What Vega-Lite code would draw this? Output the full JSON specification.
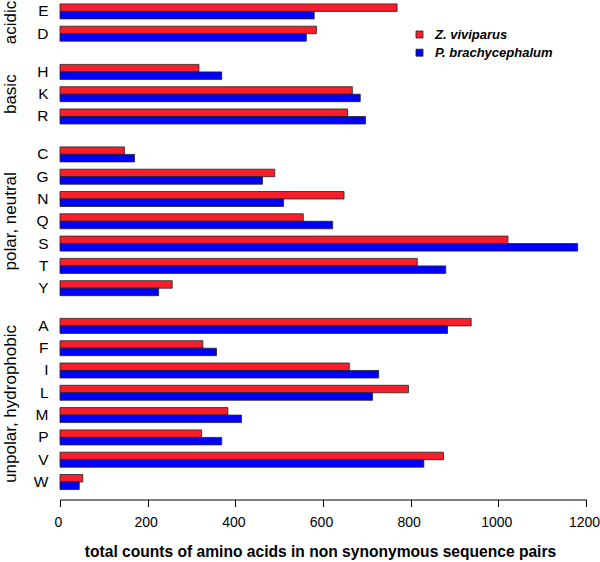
{
  "$schema": "https://vega.github.io/schema/vega-lite/v6.json",
  "padding": {"left": 1, "top": 0, "right": 0, "bottom": 0},
  "data": {"values": [
    {"aa": "E", "group": "acidic", "species": "Z. viviparus", "count": 769},
    {"aa": "E", "group": "acidic", "species": "P. brachycephalum", "count": 580},
    {"aa": "D", "group": "acidic", "species": "Z. viviparus", "count": 585},
    {"aa": "D", "group": "acidic", "species": "P. brachycephalum", "count": 562},
    {"aa": "H", "group": "basic", "species": "Z. viviparus", "count": 317},
    {"aa": "H", "group": "basic", "species": "P. brachycephalum", "count": 369},
    {"aa": "K", "group": "basic", "species": "Z. viviparus", "count": 667},
    {"aa": "K", "group": "basic", "species": "P. brachycephalum", "count": 685},
    {"aa": "R", "group": "basic", "species": "Z. viviparus", "count": 656},
    {"aa": "R", "group": "basic", "species": "P. brachycephalum", "count": 697},
    {"aa": "C", "group": "polar, neutral", "species": "Z. viviparus", "count": 147},
    {"aa": "C", "group": "polar, neutral", "species": "P. brachycephalum", "count": 170},
    {"aa": "G", "group": "polar, neutral", "species": "Z. viviparus", "count": 490},
    {"aa": "G", "group": "polar, neutral", "species": "P. brachycephalum", "count": 462},
    {"aa": "N", "group": "polar, neutral", "species": "Z. viviparus", "count": 648},
    {"aa": "N", "group": "polar, neutral", "species": "P. brachycephalum", "count": 510},
    {"aa": "Q", "group": "polar, neutral", "species": "Z. viviparus", "count": 555},
    {"aa": "Q", "group": "polar, neutral", "species": "P. brachycephalum", "count": 622},
    {"aa": "S", "group": "polar, neutral", "species": "Z. viviparus", "count": 1022},
    {"aa": "S", "group": "polar, neutral", "species": "P. brachycephalum", "count": 1181},
    {"aa": "T", "group": "polar, neutral", "species": "Z. viviparus", "count": 815},
    {"aa": "T", "group": "polar, neutral", "species": "P. brachycephalum", "count": 880},
    {"aa": "Y", "group": "polar, neutral", "species": "Z. viviparus", "count": 256},
    {"aa": "Y", "group": "polar, neutral", "species": "P. brachycephalum", "count": 225},
    {"aa": "A", "group": "unpolar, hydrophobic", "species": "Z. viviparus", "count": 938},
    {"aa": "A", "group": "unpolar, hydrophobic", "species": "P. brachycephalum", "count": 884},
    {"aa": "F", "group": "unpolar, hydrophobic", "species": "Z. viviparus", "count": 326},
    {"aa": "F", "group": "unpolar, hydrophobic", "species": "P. brachycephalum", "count": 357},
    {"aa": "I", "group": "unpolar, hydrophobic", "species": "Z. viviparus", "count": 660},
    {"aa": "I", "group": "unpolar, hydrophobic", "species": "P. brachycephalum", "count": 727},
    {"aa": "L", "group": "unpolar, hydrophobic", "species": "Z. viviparus", "count": 795},
    {"aa": "L", "group": "unpolar, hydrophobic", "species": "P. brachycephalum", "count": 713},
    {"aa": "M", "group": "unpolar, hydrophobic", "species": "Z. viviparus", "count": 383},
    {"aa": "M", "group": "unpolar, hydrophobic", "species": "P. brachycephalum", "count": 414},
    {"aa": "P", "group": "unpolar, hydrophobic", "species": "Z. viviparus", "count": 323},
    {"aa": "P", "group": "unpolar, hydrophobic", "species": "P. brachycephalum", "count": 369},
    {"aa": "V", "group": "unpolar, hydrophobic", "species": "Z. viviparus", "count": 875},
    {"aa": "V", "group": "unpolar, hydrophobic", "species": "P. brachycephalum", "count": 830},
    {"aa": "W", "group": "unpolar, hydrophobic", "species": "Z. viviparus", "count": 52},
    {"aa": "W", "group": "unpolar, hydrophobic", "species": "P. brachycephalum", "count": 44}
  ]},
  "facet": {
    "row": {
      "field": "group", "type": "nominal",
      "sort": ["acidic", "basic", "polar, neutral", "unpolar, hydrophobic"],
      "header": {"title": null, "labelAngle": -90, "labelOrient": "left", "labelFont": "Liberation Sans", "labelFontSize": 17, "labelColor": "black", "labelPadding": 5}
    }
  },
  "spacing": 20.5,
  "resolve": {"scale": {"y": "independent"}},
  "spec": {
    "width": 526,
    "height": {"step": 22.3},
    "encoding": {
      "y": {
        "field": "aa", "type": "nominal",
        "sort": ["E", "D", "H", "K", "R", "C", "G", "N", "Q", "S", "T", "Y", "A", "F", "I", "L", "M", "P", "V", "W"],
        "scale": {"paddingInner": 0.327, "paddingOuter": 0.04},
        "axis": {"title": null, "domain": false, "ticks": false, "labelFont": "Liberation Sans", "labelFontSize": 15.5, "labelColor": "black", "labelPadding": 12}
      },
      "x": {
        "field": "count", "type": "quantitative",
        "scale": {"domain": [0, 1200], "nice": false},
        "axis": {
          "title": "total counts of amino acids in non synonymous sequence pairs",
          "values": [0, 200, 400, 600, 800, 1000, 1200], "format": "d", "labelFlush": false, "labelOffset": -2,
          "grid": false, "offset": 8.5, "domainColor": "black", "tickColor": "black", "tickSize": 7,
          "labelFont": "Liberation Sans", "labelFontSize": 14, "labelColor": "black", "labelPadding": 9,
          "titleFont": "Liberation Sans", "titleFontSize": 15.6, "titleFontWeight": "bold", "titleColor": "black", "titlePadding": 15, "titleX": 260
        }
      },
      "color": {
        "field": "species", "type": "nominal",
        "scale": {"domain": ["Z. viviparus", "P. brachycephalum"], "range": ["#fb1d2a", "#0000ff"]},
        "legend": {
          "title": null, "orient": "none", "legendX": 353, "legendY": 25,
          "symbolType": "square", "symbolSize": 49, "symbolStrokeColor": "#222", "symbolStrokeWidth": 0.8,
          "labelFont": "Liberation Sans", "labelFontSize": 13, "labelFontStyle": "italic", "labelFontWeight": "bold", "labelColor": "black", "labelOffset": 9, "rowPadding": 4.2
        }
      }
    },
    "layer": [
      {
        "transform": [{"filter": "datum.species === 'Z. viviparus'"}],
        "mark": {"type": "bar", "stroke": "#222", "strokeWidth": 0.8, "height": 7.5, "yOffset": -3.75}
      },
      {
        "transform": [{"filter": "datum.species === 'P. brachycephalum'"}],
        "mark": {"type": "bar", "stroke": "#222", "strokeWidth": 0.8, "height": 7.5, "yOffset": 3.75}
      }
    ]
  },
  "config": {"view": {"stroke": null}}
}
